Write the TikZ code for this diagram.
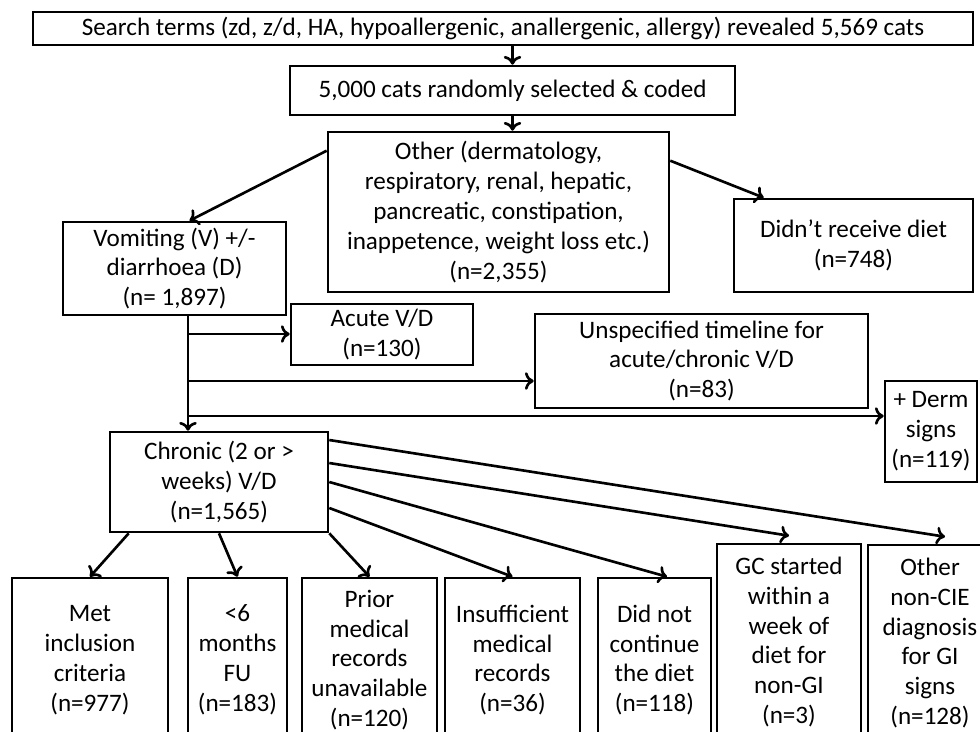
\documentclass[tikz,border=0pt]{standalone}
\usepackage{fontspec}
\setmainfont{Carlito}
\usetikzlibrary{arrows.meta}
\tikzset{flow/.style={black,draw=black,line width=1.5pt,rectangle,align=center,inner sep=0pt,font=\fontsize{14.3}{17}\selectfont}}
\tikzset{link/.style={line width=1.5pt}}

\begin{document}
\begin{tikzpicture}[x=0.02cm,y=-0.02cm,>={To[length=5pt,width=10pt]}]
    \useasboundingbox (0,0) rectangle (980,731);
    \clip (0,0) rectangle (980,731);

    \node[flow,minimum width=18.8cm,minimum height=0.66cm] (search) at (503,28.5) {Search terms (zd, z/d, HA, hypoallergenic, anallergenic, allergy) revealed 5,569 cats};
    \node[flow,minimum width=8.9cm,minimum height=0.98cm] (cats) at (512.5,90.5) {5,000 cats randomly selected \& coded};

    \node[flow,minimum width=6.82cm,minimum height=3.2cm] (other) at (498.5,212) {Other (dermatology,\\respiratory, renal, hepatic,\\pancreatic, constipation,\\inappetence, weight loss etc.)\\(n=2,355)};
    \node[flow,minimum width=4.78cm,minimum height=1.86cm] (didnt) at (853.5,245.5) {Didn’t receive diet\\(n=748)};
    \node[flow,minimum width=4.46cm,minimum height=1.86cm] (vomit) at (174.5,268.5) {Vomiting (V) +/-\\diarrhoea (D)\\(n= 1,897)};

    \node[flow,minimum width=3.64cm,minimum height=1.22cm] (acute) at (382,334.5) {Acute V/D\\(n=130)};
    \node[flow,minimum width=6.66cm,minimum height=1.88cm] (unspec) at (701.5,361) {Unspecified timeline for\\acute/chronic V/D\\(n=83)};
    \node[flow,minimum width=1.84cm,minimum height=2.02cm] (derm) at (931,431.5) {+ Derm\\signs\\(n=119)};

    \node[flow,minimum width=4.36cm,minimum height=2.0cm] (chronic) at (219,482) {Chronic (2 or >\\weeks) V/D\\(n=1,565)};

    % excluded / included groups
    \node[flow,minimum width=3.12cm,minimum height=3.28cm] (met) at (90,660) {Met\\inclusion\\criteria\\(n=977)};
    \node[flow,minimum width=1.98cm,minimum height=3.28cm] (months) at (237.5,660) {<6\\months\\FU\\(n=183)};
    \node[flow,minimum width=2.7cm,minimum height=3.28cm] (prior) at (369.5,660) {Prior\\medical\\records\\unavailable\\(n=120)};
    \node[flow,minimum width=2.7cm,minimum height=3.28cm] (insuff) at (512.5,660) {Insufficient\\medical\\records\\(n=36)};
    \node[flow,minimum width=2.26cm,minimum height=3.28cm] (didnot) at (654.5,660) {Did not\\continue\\the diet\\(n=118)};
    \node[flow,minimum width=2.88cm,minimum height=3.92cm] (gc) at (789,642) {GC started\\within a\\week of\\diet for\\non-GI\\(n=3)};
    \node[flow,minimum width=2.48cm,minimum height=3.92cm] (nocie) at (930,643) {Other\\non-CIE\\diagnosis\\for GI\\signs\\(n=128)};

    \coordinate (spine) at (188,0);
    \coordinate (b1) at (188,334);
    \coordinate (b2) at (188,381);
    \coordinate (b3) at (188,416);

    \draw[link,->] (cats.north |- search.south) -- (cats.north);
    \draw[link,->] (cats.south) -- (cats.south |- other.north);

    \draw[link,->] ([yshift=-0.4cm]other.north west) -- ([xshift=0.3cm]vomit.north);
    \draw[link,->] ([yshift=-0.6cm]other.north east) -- ([xshift=0.62cm]didnt.north west);

    \draw[link,->] (vomit.south -| spine) -- (chronic.north -| spine);
    \draw[link,->] (b1) -- (b1 -| acute.west);
    \draw[link,->] (b2) -- (b2 -| unspec.west);
    \draw[link,->] (b3) -- (b3 -| derm.west);

    \draw[link,->] ([xshift=0.4cm]chronic.south west) -- (met.north);
    \draw[link,->] (chronic.south) -- (months.north);
    \draw[link,->] (chronic.south east) -- (prior.north);
    \draw[link,->] ([yshift=-0.52cm]chronic.east) -- (insuff.north);
    \draw[link,->] (chronic.east) -- ([xshift=0.25cm]didnot.north);
    \draw[link,->] ([yshift=0.38cm]chronic.east) -- ([yshift=0.14cm]gc.north);
    \draw[link,->] ([yshift=0.84cm]chronic.east) -- ([xshift=0.3cm,yshift=0.14cm]nocie.north);
  \end{tikzpicture}
\end{document}
